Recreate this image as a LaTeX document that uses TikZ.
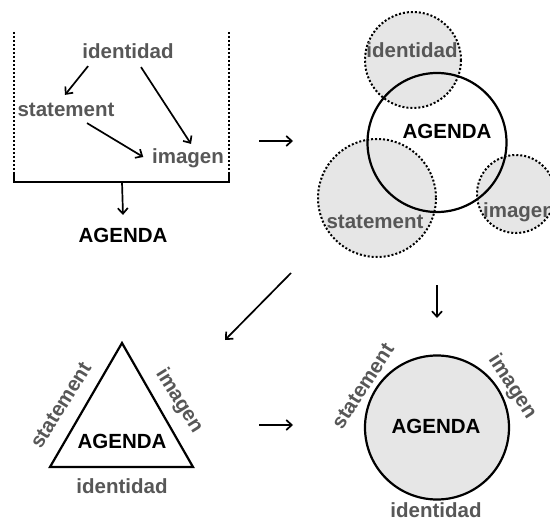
\documentclass[tikz,border=0pt]{standalone}
\usepackage{fontspec}
\setmainfont{Liberation Sans}
\usetikzlibrary{arrows.meta}
\definecolor{txtgray}{HTML}{575757}
\definecolor{fillgray}{HTML}{E6E6E6}
\tikzset{
  lbl/.style={font=\bfseries\fontsize{20.5}{23}\selectfont, inner sep=0pt,
    text height=14.5pt, text depth=4pt},
  partlbl/.style={lbl, text=txtgray},
  agendalbl/.style={lbl, text=black},
  dotline/.style={line width=2pt, dash pattern=on 2pt off 2pt},
  thickline/.style={line width=2.2pt}
}
\begin{document}
\begin{tikzpicture}[x=1pt, y=-1pt, line width=1.7pt,
  >={Straight Barb[length=5.5pt,width=10pt]}]
  \useasboundingbox (0,0) rectangle (550,527);
  \clip (0,0) rectangle (550,527);
  % first view: parts collected in a bracket:
  \draw[dotline] (14,32) -- (14,172);
  \draw[dotline] (229,32) -- (229,172);
  \draw[thickline] (14,172) -- (14,182) -- (229,182) -- (229,172);
  \coordinate (brk) at (122,182);
  \node[partlbl] (id1) at (128,53) {identidad};
  \node[partlbl] (st1) at (66,111) {statement};
  \node[partlbl] (im1) at (188,158) {imagen};
  \node[agendalbl] (ag1) at (123,237) {AGENDA};
  \draw[->] ([xshift=6.5pt,yshift=-3pt]id1.south west) -- ([xshift=-1pt,yshift=6pt]st1.north);
  \draw[->] ([xshift=13pt,yshift=-4pt]id1.south) -- ([xshift=3pt,yshift=4pt]im1.north);
  \draw[->] ([xshift=21pt,yshift=-2pt]st1.south) -- ([xshift=-8pt,yshift=1pt]im1.west);
  \draw[->] (brk) -- ([yshift=12pt]ag1.north);
  % arrows between the views:
  \coordinate (ta) at (259,141);
  \coordinate (tb) at (293,141);
  \coordinate (tc) at (291,273);
  \coordinate (td) at (225,340);
  \coordinate (te) at (437,285);
  \coordinate (tf) at (437,318);
  \coordinate (tg) at (259,425);
  \coordinate (th) at (293,425);
  \draw[->] (ta) -- (tb);
  \draw[->] (tc) -- (td);
  \draw[->] (te) -- (tf);
  \draw[->] (tg) -- (th);
  % second view: overlapping circles:
  \fill[fillgray] (413,60) circle[radius=48] (377,198) circle[radius=59]
    (516,194) circle[radius=39];
  \draw[thickline] (437,142.5) circle[radius=69.5];
  \draw[dotline] (413,60) circle[radius=48] (377,198) circle[radius=59]
    (516,194) circle[radius=39];
  \node[partlbl] (id2) at (412,52) {identidad};
  \node[partlbl] (st2) at (375,223) {statement};
  \node[partlbl] (im2) at (519,212) {imagen};
  \node[agendalbl] (ag2) at (447,133) {AGENDA};
  % third view: triangle:
  \draw[thickline, line join=miter] (122,343) -- (50,467) -- (193,467) -- cycle;
  \node[agendalbl] (ag3) at (122,443) {AGENDA};
  \node[partlbl] (id3) at (122,488) {identidad};
  \node[partlbl, rotate=58] (st3) at (62,406) {statement};
  \node[partlbl, rotate=-58] (im3) at (179,401) {imagen};
  % fourth view: filled circle:
  \filldraw[fill=fillgray, thickline] (437,427.5) circle[radius=72];
  \node[agendalbl] (ag4) at (436,428) {AGENDA};
  \node[partlbl] (id4) at (436,512) {identidad};
  \node[partlbl, rotate=57] (st4) at (364,387) {statement};
  \node[partlbl, rotate=-57] (im4) at (512,387) {imagen};
\end{tikzpicture}
\end{document}
